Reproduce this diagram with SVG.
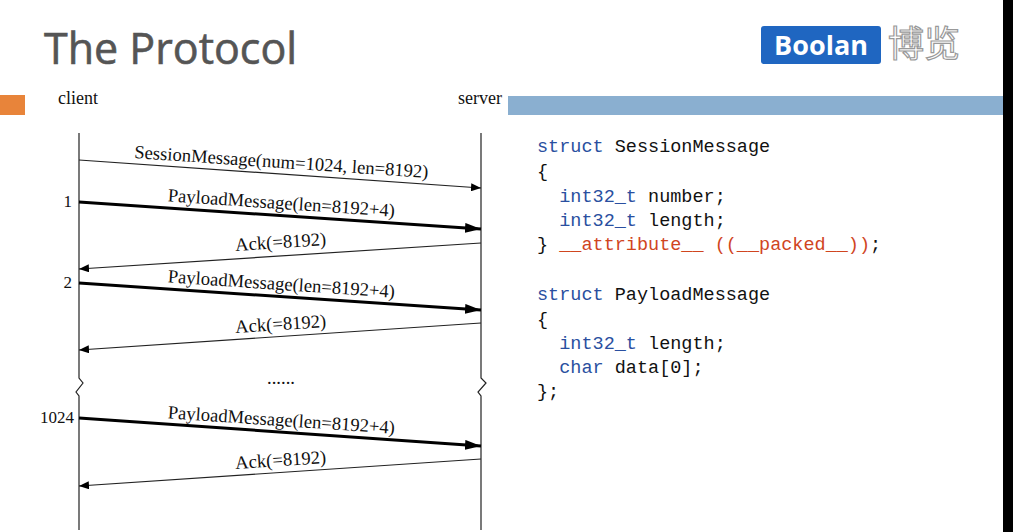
<svg xmlns="http://www.w3.org/2000/svg" width="1013" height="532" viewBox="0 0 1013 532">
<defs>
<style>
.lbl{font-family:"Liberation Serif",serif;font-size:18.6px;fill:#111;text-anchor:middle}
.num{font-family:"Liberation Serif",serif;font-size:17px;fill:#111;text-anchor:end}
.code{font-family:"Liberation Mono",monospace;font-size:18.5px;fill:#111}
.kw{fill:#2a4fa0}.at{fill:#d0451f}
.thin{stroke:#222;stroke-width:1.2;fill:none}
.thick{stroke:#000;stroke-width:3;fill:none}
</style>
<marker id="ah" markerWidth="10" markerHeight="8" refX="10" refY="4" orient="auto" markerUnits="userSpaceOnUse"><path d="M0,0L10,4L0,8Z" fill="#000"/></marker>
<marker id="ahb" markerWidth="16" markerHeight="10" refX="16" refY="5" orient="auto" markerUnits="userSpaceOnUse"><path d="M0,0L16,5L0,10Z" fill="#000"/></marker>
</defs>
<rect width="1013" height="532" fill="#fff"/>
<text x="44" y="64" font-family="Open Sans,sans-serif" font-size="43" fill="#555" stroke="#555" stroke-width="0.6">The Protocol</text>
<rect x="0" y="95" width="25" height="20" fill="#e8843a"/>
<rect x="508" y="96" width="505" height="19" fill="#8aafd0"/>
<g id="logo">
<rect x="761" y="26" width="120" height="38" rx="3" fill="#1f66c1"/>
<text x="821" y="55" font-family="Open Sans,sans-serif" font-weight="bold" font-size="27" fill="#fff" text-anchor="middle">Boolan</text>
<text x="888" y="57" font-family="Noto Sans CJK SC,sans-serif" font-size="36" fill="#fff" stroke="#999" stroke-width="1.2">博览</text>
</g>
<g id="client"><text x="58" y="104" font-family="Liberation Serif,serif" font-size="18" fill="#111">client</text></g>
<g id="server"><text x="458" y="104" font-family="Liberation Serif,serif" font-size="18" fill="#111">server</text></g>
<g id="lifelines" class="thin">
<path d="M79,133V378L83,383L76,392L79,396V530"/>
<path d="M481,133V378L486,383L478,392L481,396V530"/>
</g>
<g id="connectors">
<line class="thin" x1="79" y1="160" x2="481" y2="188" marker-end="url(#ah)"/>
<line class="thick" x1="79" y1="202" x2="481" y2="229" marker-end="url(#ahb)"/>
<line class="thin" x1="481" y1="243" x2="79" y2="269" marker-end="url(#ah)"/>
<line class="thick" x1="79" y1="283" x2="481" y2="310" marker-end="url(#ahb)"/>
<line class="thin" x1="481" y1="323" x2="79" y2="350" marker-end="url(#ah)"/>
<line class="thick" x1="79" y1="418" x2="481" y2="446" marker-end="url(#ahb)"/>
<line class="thin" x1="481" y1="459" x2="79" y2="486" marker-end="url(#ah)"/>
</g>
<g id="labels">
<text class="lbl" transform="translate(281,168) rotate(3.9)">SessionMessage(num=1024, len=8192)</text>
<text class="lbl" transform="translate(281,209) rotate(3.9)">PayloadMessage(len=8192+4)</text>
<text class="lbl" transform="translate(281,248) rotate(-3.7)">Ack(=8192)</text>
<text class="lbl" transform="translate(281,290) rotate(3.9)">PayloadMessage(len=8192+4)</text>
<text class="lbl" transform="translate(281,330) rotate(-3.7)">Ack(=8192)</text>
<text class="lbl" x="281" y="384">......</text>
<text class="lbl" transform="translate(281,426) rotate(3.9)">PayloadMessage(len=8192+4)</text>
<text class="lbl" transform="translate(281,466) rotate(-3.7)">Ack(=8192)</text>
<text class="num" x="72" y="207">1</text>
<text class="num" x="72" y="288">2</text>
<text class="num" x="74" y="423">1024</text>
</g>
<g id="code" class="code">
<text x="537" y="152"><tspan class="kw">struct</tspan> SessionMessage</text>
<text x="537" y="177">{</text>
<text x="537" y="202" xml:space="preserve">  <tspan class="kw">int32_t</tspan> number;</text>
<text x="537" y="226" xml:space="preserve">  <tspan class="kw">int32_t</tspan> length;</text>
<text x="537" y="250" xml:space="preserve">} <tspan class="at">__attribute__ ((__packed__))</tspan>;</text>
<text x="537" y="300"><tspan class="kw">struct</tspan> PayloadMessage</text>
<text x="537" y="325">{</text>
<text x="537" y="349" xml:space="preserve">  <tspan class="kw">int32_t</tspan> length;</text>
<text x="537" y="373" xml:space="preserve">  <tspan class="kw">char</tspan> data[0];</text>
<text x="537" y="397">};</text>
</g>
<rect x="1003" y="0" width="10" height="532" fill="#000"/>
</svg>
